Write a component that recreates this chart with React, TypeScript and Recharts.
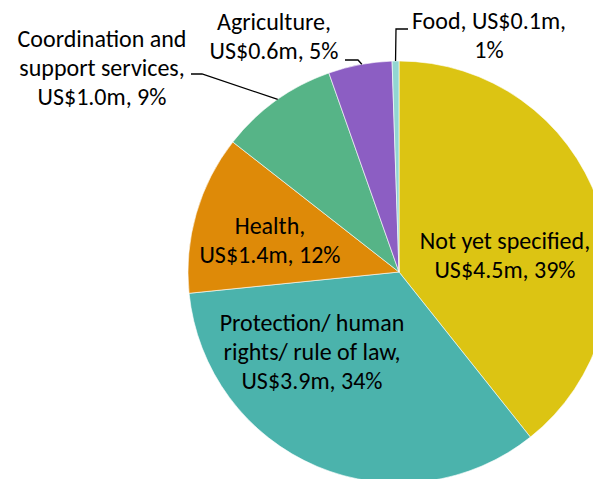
import React from "react";
import { PieChart, Pie, Cell } from "recharts";

const categories = [
  "Not yet specified",
  "Protection/ human rights/ rule of law",
  "Health",
  "Coordination and support services",
  "Agriculture",
  "Food",
];
const valuesUSDm = [4.52, 3.92, 1.4, 1.04, 0.56, 0.06];
const labelLines = [
  ["Not yet specified,", "US$4.5m, 39%"],
  ["Protection/ human", "rights/ rule of law,", "US$3.9m, 34%"],
  ["Health,", "US$1.4m, 12%"],
  ["Coordination and", "support services,", "US$1.0m, 9%"],
  ["Agriculture,", "US$0.6m, 5%"],
  ["Food, US$0.1m,", "1%"],
];

const COLORS = ["#DCC413", "#4BB3AC", "#DE8A08", "#56B487", "#8C5EC3", "#92D6D2"];
const FONT = "Carlito, Calibri, Lato, sans-serif";
const FONT_SIZE = 24;
const LINE_H = 29;

// layout: label centre offset (dx) and first baseline offset (dy) from pie centre
const LABEL_LAYOUT = [
  { dx: 106, dy: -23 },
  { dx: -87, dy: 59 },
  { dx: -129, dy: -38 },
  { dx: -297, dy: -225 },
  { dx: -125, dy: -242 },
  { dx: 90, dy: -243 },
];
// leader lines: elbow offsets from centre, end on rim at the slice mid angle
const LEADERS: Record<number, { pts: [number, number][]; adj: number }> = {
  3: { pts: [[-208, -198], [-197, -198]], adj: 0.6 },
  4: { pts: [[-54, -212], [-41, -212]], adj: 0.5 },
  5: { pts: [[9, -243], [-3, -243]], adj: 0 },
};

const data = categories.map((name, i) => ({
  name,
  value: valuesUSDm[i],
  lines: labelLines[i],
}));

const RAD = Math.PI / 180;

function renderLabel(props: any) {
  const { cx, cy, midAngle, outerRadius, index } = props;
  const lay = LABEL_LAYOUT[index];
  const lines: string[] = data[index].lines;
  const x = cx + lay.dx;
  const leader = LEADERS[index];
  let path: string | null = null;
  if (leader) {
    const a = (midAngle - leader.adj) * RAD;
    const ex = cx + outerRadius * Math.cos(a);
    const ey = cy - outerRadius * Math.sin(a);
    const p = leader.pts.map(([dx, dy]) => `${cx + dx},${cy + dy}`);
    path = `M${p.join(" L")} L${ex},${ey}`;
  }
  return (
    <g key={`lbl-${index}`}>
      {path && <path d={path} stroke="#000" strokeWidth={1.3} fill="none" />}
      <text
        x={x}
        y={cy + lay.dy}
        textAnchor="middle"
        fontFamily={FONT}
        fontSize={FONT_SIZE}
        fill="#000"
      >
        {lines.map((l, i) => (
          <tspan key={i} x={x} y={cy + lay.dy + i * LINE_H}>
            {l}
          </tspan>
        ))}
      </text>
    </g>
  );
}

export default function App() {
  return (
    <div style={{ position: "absolute", left: 0, top: 0, width: 593, height: 479, background: "#fff" }}>
      <PieChart width={593} height={479} margin={{ top: 0, right: 0, bottom: 0, left: 0 }}>
        <Pie
          data={data}
          dataKey="value"
          nameKey="name"
          cx={399}
          cy={272}
          outerRadius={211}
          startAngle={90}
          endAngle={-270}
          stroke="#fff"
          strokeWidth={0.6}
          label={renderLabel}
          labelLine={false}
          isAnimationActive={false}
        >
          {data.map((d, i) => (
            <Cell key={d.name} fill={COLORS[i]} />
          ))}
        </Pie>
      </PieChart>
    </div>
  );
}
